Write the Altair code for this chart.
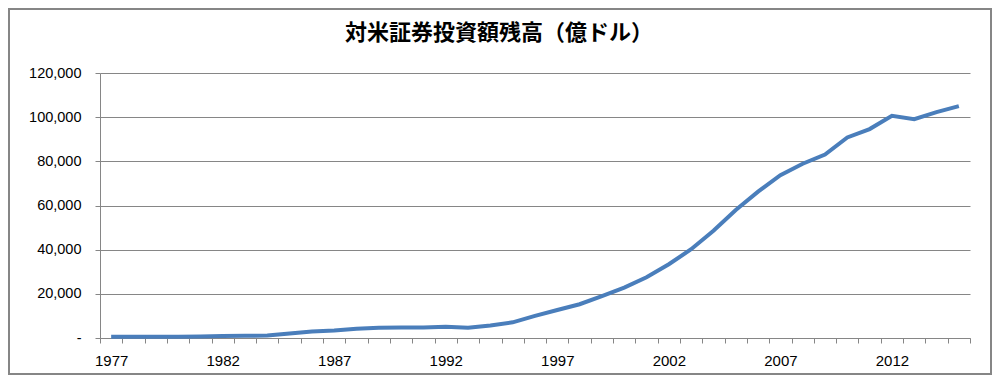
import altair as alt
import pandas as pd

years = [1977, 1978, 1979, 1980, 1981, 1982, 1983, 1984, 1985, 1986,
         1987, 1988, 1989, 1990, 1991, 1992, 1993, 1994, 1995, 1996,
         1997, 1998, 1999, 2000, 2001, 2002, 2003, 2004, 2005, 2006,
         2007, 2008, 2009, 2010, 2011, 2012, 2013, 2014, 2015]
values = [600, 600, 600, 600, 650, 900, 1000, 1100, 2000, 2900,
          3400, 4200, 4600, 4700, 4800, 5100, 4600, 5700, 7100, 10000,
          12700, 15300, 19000, 22800, 27500, 33400, 40200, 48600, 58000, 66300,
          73700, 78900, 83100, 90800, 94600, 100600, 99100, 102300, 105000]
y_ticks = [0, 20000, 40000, 60000, 80000, 100000, 120000]
title_text = "対米証券投資額残高（億ドル）"

df = pd.DataFrame({"year": years, "value": values})

GRAY = "#868686"
LABEL_FONT = "Liberation Sans"

line = alt.Chart(df).mark_line(color="#4a7ebb", strokeWidth=4).encode(
    x=alt.X("year:O",
            bandPosition=0.5,
            scale=alt.Scale(type="band", paddingInner=0, paddingOuter=0),
            axis=alt.Axis(title=None, labelAngle=0, tickBand="extent",
                          labelExpr="(datum.value - 1977) % 5 === 0 ? datum.label : ''",
                          labelOverlap=False, labelFont=LABEL_FONT, labelFontSize=15,
                          labelColor="#000000", labelPadding=10, tickSize=5,
                          tickColor=GRAY, domainColor=GRAY, grid=False)),
    y=alt.Y("value:Q",
            scale=alt.Scale(domain=[0, 120000], nice=False),
            axis=alt.Axis(title=None, values=y_ticks,
                          labelExpr="datum.value === 0 ? '-' : format(datum.value, ',')",
                          labelFont=LABEL_FONT, labelFontSize=14.5, labelColor="#000000",
                          labelPadding=14, tickSize=5, tickColor=GRAY,
                          domainColor=GRAY, gridColor=GRAY, gridWidth=1)),
)

frame = alt.Chart(pd.DataFrame({"a": [0]})).mark_rect(
    fillOpacity=0, stroke=GRAY, strokeWidth=2
).encode(
    x=alt.value(-91), x2=alt.value(891), y=alt.value(-64), y2=alt.value(301)
)

title = alt.Chart(pd.DataFrame({"t": [title_text]})).mark_text(
    font="Noto Sans CJK JP", fontSize=22, fontWeight="bold", color="#000000",
    align="center", baseline="middle"
).encode(
    text="t:N", x=alt.value(399), y=alt.value(-40)
)

chart = alt.layer(frame, line, title).properties(
    width=870,
    height=265,
    autosize=alt.AutoSizeParams(type="none"),
    padding={"left": 92, "top": 65, "right": 22, "bottom": 37},
).configure_view(stroke=None)

chart.save("out.html", embed_options={"renderer": "svg", "actions": False})
